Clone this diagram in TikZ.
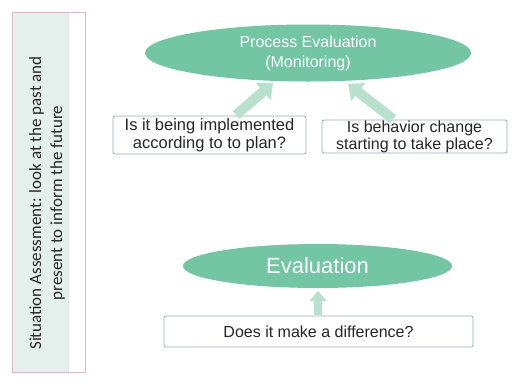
\documentclass[tikz,border=0pt]{standalone}
\usepackage{fontspec}
\setmainfont{Liberation Sans}
\newfontfamily\sidefont{Carlito}
\usetikzlibrary{arrows.meta,shapes.geometric}
\definecolor{ovgreen}{HTML}{73C6A4}
\definecolor{argreen}{HTML}{B7E0CD}
\definecolor{panelgreen}{HTML}{E5F0EC}
\definecolor{panelpink}{HTML}{E3B5C0}
\definecolor{boxedge}{HTML}{9EA8BC}
\tikzset{
  oval/.style={ellipse, fill=ovgreen, text=white, align=center, inner sep=0pt},
  qbox/.style={draw=boxedge, line width=0.8bp, rounded corners=2bp, fill=white, align=center, text=black!85, inner sep=0pt},
  fatarrow/.style={draw=argreen, line width=10bp, -{Triangle[width=22bp,length=13bp]}},
}
\begin{document}
\begin{tikzpicture}[x=1bp,y=-1bp]
\useasboundingbox[fill=white] (0,0) rectangle (524,388);
% left panel
\fill[panelgreen] (12,12) rectangle (68,372);
\draw[panelpink, line width=0.8bp] (12,12) rectangle (85,372);
\draw[panelgreen!70!black!30, line width=0.6bp] (68,12) -- (68,372);
\node[rotate=90, align=center, font=\sidefont\fontsize{17bp}{21bp}\selectfont, text=black!85] (side) at (47,203) {Situation Assessment: look at the past and\\present to inform the future};
% top ellipse
\node[oval, minimum width=326bp, minimum height=57bp, font=\fontsize{16bp}{20bp}\selectfont] (pe) at (308,53) {Process Evaluation\\(Monitoring)};
% question boxes
\node[qbox, minimum width=193bp, minimum height=38bp, font=\fontsize{16.5bp}{18bp}\selectfont] (q1) at (209.5,135) {Is it being implemented\\according to to plan?};
\node[qbox, minimum width=185bp, minimum height=33bp, font=\fontsize{16bp}{17bp}\selectfont] (q2) at (414.5,136.5) {Is behavior change\\starting to take place?};
\coordinate (a1s) at (236,115);
\coordinate (a1e) at (273,83);
\coordinate (a2s) at (393,119);
\coordinate (a2e) at (348,84);
\draw[fatarrow] (a1s) -- (a1e);
\draw[fatarrow] (a2s) -- (a2e);
% bottom ellipse
\node[oval, minimum width=269bp, minimum height=44bp, font=\fontsize{22bp}{26bp}\selectfont] (ev) at (317.5,266) {Evaluation};
\node[qbox, minimum width=309bp, minimum height=31bp, font=\fontsize{16bp}{18bp}\selectfont] (q3) at (318.5,331.5) {Does it make a difference?};
\coordinate (a3s) at (318,315);
\coordinate (a3e) at (318,291);
\draw[draw=argreen, line width=8bp, -{Triangle[width=17bp,length=10bp]}] (a3s) -- (a3e);
\end{tikzpicture}
\end{document}
